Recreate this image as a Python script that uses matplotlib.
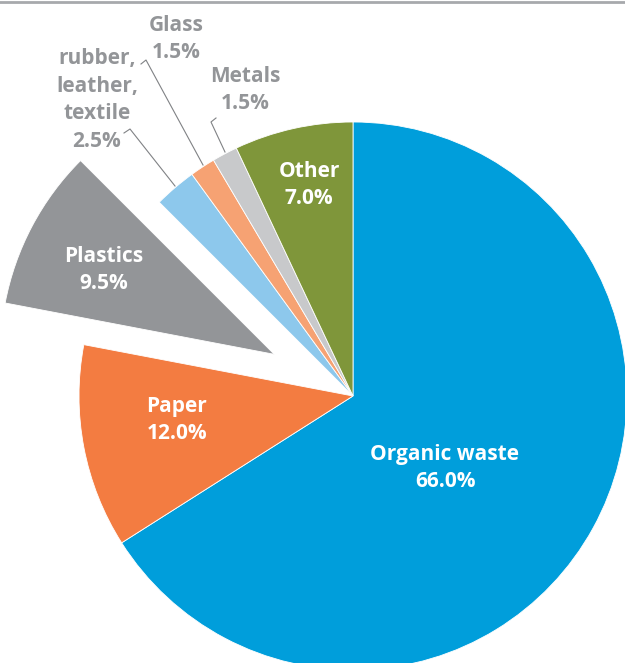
import matplotlib.pyplot as plt

# slice data, clockwise from 12 o'clock
categories = ["Organic waste", "Paper", "Plastics", "rubber,\nleather,\ntextile",
              "Glass", "Metals", "Other"]
shares = [66.0, 12.0, 9.5, 2.5, 1.5, 1.5, 7.0]
colors = ["#009edb", "#f37c41", "#939598", "#8dc8ec", "#f6a273", "#c8c9cb", "#7f963a"]
explode = [0, 0, 0.325, 0, 0, 0, 0]

W, H = 625, 663
CX, CY, R = 353, 396, 274  # pie centre / radius in pixels


def px(x, y):
    """pixel position -> data coords (pie radius = 1)"""
    return (x - CX) / R, (CY - y) / R


fig = plt.figure(figsize=(W / 100, H / 100), dpi=100)
ax = fig.add_axes([0, 0, 1, 1])
ax.pie(shares, colors=colors, explode=explode, startangle=90, counterclock=False,
       radius=1, wedgeprops=dict(edgecolor="white", linewidth=0.6))
x0, y0 = px(0, H)
x1, y1 = px(W, 0)
ax.set_xlim(x0, x1)
ax.set_ylim(y0, y1)
ax.set_aspect("equal")
ax.axis("off")

font = dict(family=["Open Sans", "DejaVu Sans"], fontweight="bold", fontsize=15,
            ha="center", va="center", linespacing=1.42)
grey = "#939598"

# labels inside the big slices
inside = {0: (445, 468), 1: (177, 420), 2: (104, 270), 6: (309, 185)}
for i, (x, y) in inside.items():
    ax.text(*px(x, y), f"{categories[i]}\n{shares[i]:.1f}%", color="white", **font)

# small slices: grey labels with leader lines
outside = {3: (97, 100), 4: (176, 39), 5: (245, 90)}
for i, (x, y) in outside.items():
    ax.text(*px(x, y), f"{categories[i]}\n{shares[i]:.1f}%", color=grey, **font)

leaders = [
    [(175, 186), (130, 129), (124, 133)],
    [(203, 165), (146, 60), (141, 64)],
    [(225, 152), (211, 122), (216, 118)],
]
for pts in leaders:
    xs, ys = zip(*[px(x, y) for x, y in pts])
    ax.plot(xs, ys, color="#808285", lw=0.8)

# rule across the top
ax.plot([x0, x1], [px(0, 1.5)[1]] * 2, color="#a7a9ac", lw=2, clip_on=False)

fig.savefig("out.png", dpi=100)
